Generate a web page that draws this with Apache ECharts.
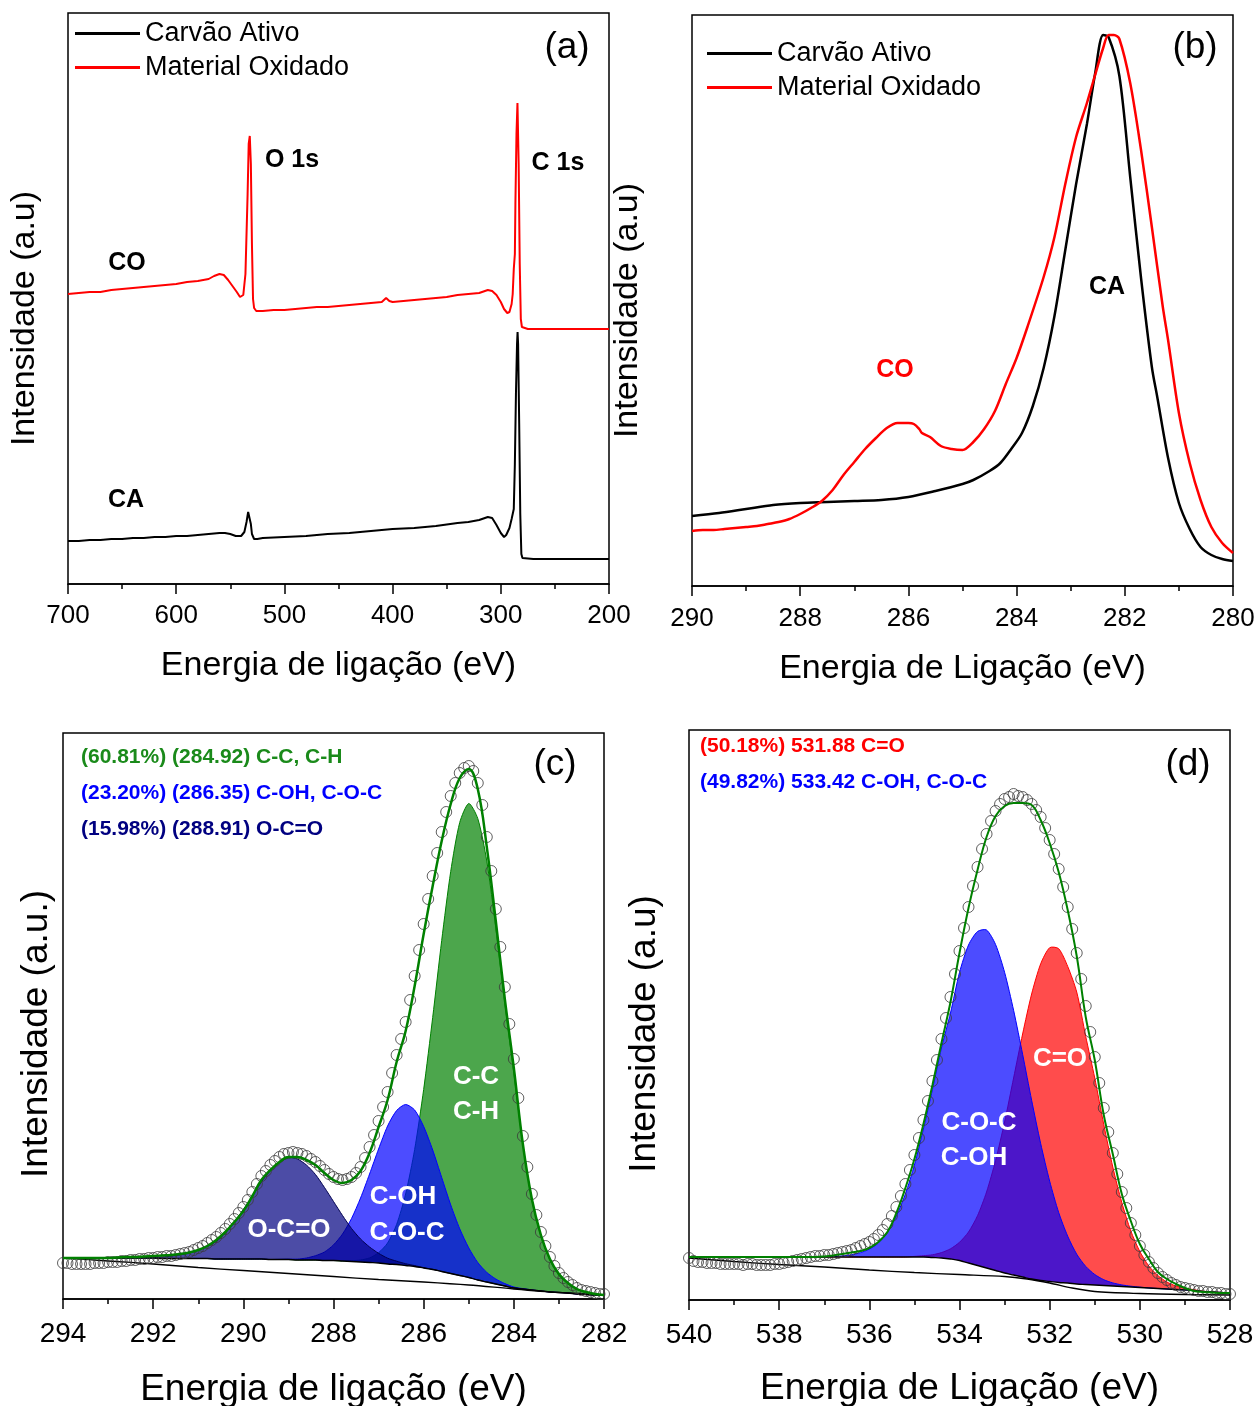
<!DOCTYPE html>
<html><head><meta charset="utf-8">
<script src="https://cdn.jsdelivr.net/npm/echarts@6/dist/echarts.min.js"></script>
<style>html,body{margin:0;padding:0;background:#fff}#c{width:1259px;height:1406px}</style>
</head><body><div id="c"></div>
<script>
const F = "'Liberation Sans', Arial, Helvetica, sans-serif";

// ---------- (a) survey spectra ----------
const surveyCAEnergy = [700,690,680,670,660,650,640,630,620,610, 600,590,580,570,560,555,550,545,540,537, 535,533.5,532.5,531,530,528,525,520,500,480, 460,440,420,400,380,360,340,330,320,312, 308,304,300,297,295,292,290,288,287,286, 285,284.5,284,283,282,281,280,270,250,230, 200];
const surveyCA = [43,43,44,44,45,45,46,46,47,47, 48,48,49,50,51,51,50,48,48,52, 62,72,72,60,50,45,45,46,47,48, 50,51,53,55,56,58,61,62,64,67, 66,59,51,47,49,56,65,75,120,190, 240,252,240,160,70,30,26,25,25,25, 25];
const surveyCOEnergy = [700,690,680,670,660,650,640,630,620,610, 600,590,580,570,565,560,556,552,548,544, 541,538,536,534,533,532,531,530,529,528, 526,520,510,500,490,480,470,460,450,440, 430,420,410,406,403,400,390,380,370,360, 350,340,330,320,312,308,304,300,297,294, 292,290,289,288,287,286.5,285.5,284.6,283.5,282.5, 281.5,280.5,275,260,240,220,200];
const surveyCO = [290,291,292,292,294,295,296,297,298,299, 300,302,303,305,308,310,309,304,298,292, 287,289,310,390,440,448,420,340,285,276, 273,273,274,274,275,276,277,277,278,279, 280,281,282,286,283,282,283,284,285,286, 287,289,290,291,294,293,289,282,275,271, 272,280,290,315,330,380,450,481,420,320, 265,257,255,255,255,255,255];

// ---------- (b) C 1s high resolution ----------
const c1sCAEnergy = [290,289.5,289,288.5,288,287.5,287,286.5,286,285.5, 285,284.8,284.5,284.3,284.1,283.9,283.7,283.5,283.3,283.1, 282.9,282.7,282.55,282.4,282.3,282.1,281.9,281.7,281.5,281.4, 281.2,281.0,280.8,280.6,280.4,280.2,280];
const c1sCA = [70,73,77,81,83,84,85,86,89,95, 102,106,115,123,137,153,180,218,270,336, 402,462,512,551,549,510,409,308,219,189, 128,83,57,39,31,27,25];
const c1sCOEnergy = [290,289.8,289.6,289.4,289.2,289,288.8,288.6,288.4,288.2, 288,287.8,287.6,287.4,287.2,287,286.8,286.6,286.4,286.2, 286.0,285.9,285.8,285.75,285.6,285.4,285.2,285.0,284.8,284.6, 284.4,284.2,284.0,283.8,283.5,283.3,283.1,282.9,282.7,282.56, 282.4,282.3,282.2,282.1,281.9,281.7,281.5,281.3,281.2,281.0, 280.8,280.6,280.4,280.2,280];
const c1sCO = [55,56,56,57,58,59,60,62,64,67, 72,78,85,96,111,124,137,148,158,163, 163,162,157,153,149,140,137,136,144,157, 175,202,228,259,309,349,402,449,483,509, 538,551,551,547,503,436,359,280,246,173, 123,86,59,43,33];

// ---------- (c) C 1s deconvolution ----------
const cFitEnergy = [294.0,293.8,293.6,293.4,293.2,293.0,292.8,292.6,292.4,292.2, 292.0,291.8,291.6,291.4,291.2,291.0,290.8,290.6,290.4,290.2, 290.0,289.8,289.6,289.4,289.2,289.0,288.8,288.6,288.4,288.2, 288.0,287.8,287.6,287.4,287.2,287.0,286.8,286.6,286.4,286.2, 286.0,285.8,285.6,285.4,285.2,285.0,284.8,284.6,284.4,284.2, 284.0,283.8,283.6,283.4,283.2,283.0,282.8,282.6,282.4,282.2, 282.0];
const cShirley = [41,41,41,41,41,41,41,41,41,41, 41,40.5,40.5,40.5,40.5,40.5,40.5,40,40,40, 40,40,40,39.5,39.5,39.5,39,39,39,38.5, 38.5,38,37.5,37,36.5,36,35,34.5,33.5,32.5, 31,29.5,27.5,25.5,23.5,21.5,19,17,15,13, 11,10,9,8,7,6.5,6,5,4.5,4, 4];
const cOCO = [0,0,0,0,0,0,0,0,0,0.1, 0.3,1.5,2.5,3.8,5.5,8.5,12.5,17.5,26,37, 49.5,63,77,89,97,102,101,95,85.5,73, 59,45.5,33,23,15.5,9.7,5.8,3.3,1.8,0.9, 0.4,0.2,0,0,0,0,0,0,0,0, 0,0,0,0,0,0,0,0,0,0, 0];
const cCOH = [0,0,0,0,0,0,0,0,0,0, 0,0,0,0,0,0,0,0,0,0, 0,0,0,0,0.2,0.4,0.9,2,4.3,8.5, 15.6,27,43,64,88.5,114,138,154,161,156.5, 141.5,119.5,94,68.6,46.7,29.6,17.5,9.6,5,2.4, 1,0.4,0.1,0,0,0,0,0,0,0, 0];
const cCC = [0,0,0,0,0,0,0,0,0,0, 0,0,0,0,0,0,0,0,0,0, 0,0,0,0,0,0,0,0,0,0, 0,0,0.8,2,4.6,10.3,21,40,71.5,117, 178.5,252,331,402,453,474,461.5,421,356,283, 215,145,90,55,32,17,9,4.5,2,0.8, 0.3];
const cEnvelope = [41,41,41,41,41,41,41.5,42,42,42.5, 43,43.5,44,45,46.5,49,53,59,67,77, 88,103,119,129,137,142,142,139,134,126, 119,116,119,128,146,172,199,237,268,313, 365,413,458,495,521,530,510,452,378,300, 231,155,100,64,40,25,16,10,7,5, 4];
const cLinEnergy = [294,293,292,291,290,289,288,287,286,285,284,283,282];
const cLinear = [41,38,35,31.5,28.5,25.5,22.5,19.5,17,14,10,6.5,4];
const cPtEnergy = [294.0,293.9,293.8,293.7,293.6,293.5,293.4,293.3,293.2,293.1, 293.0,292.9,292.8,292.7,292.6,292.5,292.4,292.3,292.2,292.1, 292.0,291.9,291.8,291.7,291.6,291.5,291.4,291.3,291.2,291.1, 291.0,290.9,290.8,290.7,290.6,290.5,290.4,290.3,290.2,290.1, 290.0,289.9,289.8,289.7,289.6,289.5,289.4,289.3,289.2,289.1, 289.0,288.9,288.8,288.7,288.6,288.5,288.4,288.3,288.2,288.1, 288.0,287.9,287.8,287.7,287.6,287.5,287.4,287.3,287.2,287.1, 287.0,286.9,286.8,286.7,286.6,286.5,286.4,286.3,286.2,286.1, 286.0,285.9,285.8,285.7,285.6,285.5,285.4,285.3,285.2,285.1, 285.0,284.9,284.8,284.7,284.6,284.5,284.4,284.3,284.2,284.1, 284.0,283.9,283.8,283.7,283.6,283.5,283.4,283.3,283.2,283.1, 283.0,282.9,282.8,282.7,282.6,282.5,282.4,282.3,282.2,282.1, 282.0];
const cPoints = [36,36,35,35,35,35,35,36,36,36, 37,37,37,38,38,39,39,40,40,41, 41,42,42,43,43,44,45,46,47,49, 51,53,56,59,62,66,70,75,80,86, 92,99,107,115,123,128,134,138,142,145, 146,147,146,145,143,140,137,133,129,125, 122,120,119,120,122,126,132,141,152,164, 178,192,207,226,244,260,277,299,323,349, 375,400,423,446,467,487,503,516,526,531, 533,528,516,494,462,428,390,352,312,275, 240,201,163,132,105,84,67,53,42,33, 26,21,17,14,11,9,8,7,6,5, 5];

// ---------- (d) O 1s deconvolution ----------
const dFitEnergy = [540.0,539.8,539.6,539.4,539.2,539.0,538.8,538.6,538.4,538.2, 538.0,537.8,537.6,537.4,537.2,537.0,536.8,536.6,536.4,536.2, 536.0,535.8,535.6,535.4,535.2,535.0,534.8,534.6,534.4,534.2, 534.0,533.8,533.6,533.4,533.2,533.0,532.8,532.6,532.4,532.2, 532.0,531.8,531.6,531.4,531.2,531.0,530.8,530.6,530.4,530.2, 530.0,529.8,529.6,529.4,529.2,529.0,528.8,528.6,528.4,528.2, 528.0];
const dShirley = [43,43,43,43,43,43,43,43,43,43, 43,43,43,43,43,43,43,43,43,43, 43,43,43,43,43,43,43,42.5,42,41, 39.5,37,34.5,32,29.5,27,25,23,21,19.5, 18.5,17.5,17,16,15.5,15,14.5,14,13.5,13, 12.5,12,11.5,11,10.5,10,9.5,8.5,8,7.5, 7];
const dCOH = [0,0,0,0,0,0,0,0,0,0, 0,0,0,0.1,0.1,0.2,0.5,1.1,2.2,4.3, 7.9,13.9,25,41,63,92,128,168,210,246, 288,318,334,338,326,300.7,264.7,222.7,178.7,137, 100.3,70,46.8,29.8,18.1,10.5,5.8,3.1,1.6,0.8, 0.35,0.1,0,0,0,0,0,0,0,0, 0];
const dCO = [0,0,0,0,0,0,0,0,0,0, 0,0,0,0,0,0,0,0,0,0, 0,0,0,0,0,0.6,1.3,2.7,5.4,10.2, 18.2,31,49.8,76,110,151,197,243,285,316.6, 333.8,333.8,316.6,292,248,207,161,119,84,56, 36,22,13,7,3.5,1.8,0.8,0.3,0.1,0, 0];
const dEnvelope = [43,43,43,43,43,43,43,43,43,43, 43,43,43,43,43,43.5,44.5,46,47.5,49, 52,58,68,87,112,141,176,215,257,298, 347,392,430,463,484,494,497,497,495,480, 457,428,390,344,283,240,185,146,106,79, 56,41,28,21,16,12,9,8,7.5,7, 7];
const dLinEnergy = [540,539,538,537,536,535,534,533,532.5,532,531.5,531,530,529,528];
const dLinear = [42,38.5,35.5,33,30,27.5,25.5,23.5,21,17,12,8.5,6.5,5.5,5];
const dPtEnergy = [540.0,539.9,539.8,539.7,539.6,539.5,539.4,539.3,539.2,539.1, 539.0,538.9,538.8,538.7,538.6,538.5,538.4,538.3,538.2,538.1, 538.0,537.9,537.8,537.7,537.6,537.5,537.4,537.3,537.2,537.1, 537.0,536.9,536.8,536.7,536.6,536.5,536.4,536.3,536.2,536.1, 536.0,535.9,535.8,535.7,535.6,535.5,535.4,535.3,535.2,535.1, 535.0,534.9,534.8,534.7,534.6,534.5,534.4,534.3,534.2,534.1, 534.0,533.9,533.8,533.7,533.6,533.5,533.4,533.3,533.2,533.1, 533.0,532.9,532.8,532.7,532.6,532.5,532.4,532.3,532.2,532.1, 532.0,531.9,531.8,531.7,531.6,531.5,531.4,531.3,531.2,531.1, 531.0,530.9,530.8,530.7,530.6,530.5,530.4,530.3,530.2,530.1, 530.0,529.9,529.8,529.7,529.6,529.5,529.4,529.3,529.2,529.1, 529.0,528.9,528.8,528.7,528.6,528.5,528.4,528.3,528.2,528.1, 528.0];
const dPoints = [42,39,38,38,37,37,37,36,36,36, 36,36,35,36,36,35,35,35,35,36, 36,37,38,39,40,41,42,43,44,44, 45,45,46,47,48,49,50,52,54,56, 58,61,65,70,76,84,93,104,116,130, 145,162,180,199,219,240,261,282,303,326, 349,372,393,414,433,451,466,479,489,496, 501,503,506,504,503,500,496,490,483,472, 460,446,431,413,393,371,347,321,294,268, 243,217,192,168,147,126,108,92,77,65, 54,45,38,32,27,23,20,17,15,13, 12,11,10,9,9,8,8,7,7,6, 6];

// ---------- helpers ----------
const zip = (xs, ys) => xs.map((x, i) => [x, ys[i]]);
const grids = [
  {left:68, top:13, width:541, height:571},
  {left:692, top:15, width:541, height:571},
  {left:63, top:733, width:541, height:566},
  {left:689, top:730, width:541, height:570}
].map(g => Object.assign(g, {show:true, borderColor:'#000', borderWidth:1.5, backgroundColor:'rgba(0,0,0,0)', outerBoundsMode:'none', containLabel:false}));

function xAx(gi, min, max, name, fs, nfs, margin, gap) {
  return {gridIndex:gi, type:'value', min, max, interval:(max-min === 500 ? 100 : 2), inverse:true,
    name, nameLocation:'middle', nameGap:gap, nameMoveOverlap:false,
    nameTextStyle:{fontFamily:F, fontSize:nfs, color:'#000'},
    axisLine:{show:true, onZero:false, lineStyle:{color:'#000', width:1.5}},
    axisTick:{show:true, inside:false, length:10, lineStyle:{color:'#000', width:1.5}},
    minorTick:{show:true, splitNumber:2, length:5, lineStyle:{color:'#000', width:1.5}},
    axisLabel:{fontFamily:F, fontSize:fs, color:'#000', margin, showMinLabel:true, showMaxLabel:true, hideOverlap:false},
    splitLine:{show:false}, minorSplitLine:{show:false}};
}
function yAx(gi, max, name, nfs, gap, shift) {
  return {gridIndex:gi, type:'value', min:0, max, name, nameLocation:'middle', nameRotate:90, nameGap:gap, nameMoveOverlap:false,
    nameTextStyle:{fontFamily:F, fontSize:nfs, color:'#000', padding:[0, 2*shift, 0, 0]},
    axisLine:{show:false}, axisTick:{show:false}, axisLabel:{show:false}, splitLine:{show:false}};
}
function line(gi, name, xs, ys, color, width, z, smooth) {
  return {type:'line', name, xAxisIndex:gi, yAxisIndex:gi, data:zip(xs, ys), symbol:'none', smooth:smooth||false,
    color, lineStyle:{color, width}, z:z||3, silent:true};
}
// fitted component: filled between the background (base) and base + component height
function fill(gi, name, xs, base, h, color, edge) {
  return {type:'custom', name, xAxisIndex:gi, yAxisIndex:gi, coordinateSystem:'cartesian2d', silent:true, z:2, clip:true,
    data: xs.map((x, i) => [x, base[i], base[i] + h[i]]),
    encode:{x:0, y:[1, 2]},
    renderItem: (params, api) => {
      if (params.dataIndex !== 0) return null;
      const top = xs.map((x, i) => api.coord([x, base[i] + h[i]]));
      const bot = xs.map((x, i) => api.coord([x, base[i]])).reverse();
      return {type:'group', children:[
        {type:'polygon', shape:{points: top.concat(bot), smooth:0.25}, style:{fill:color, stroke:null}},
        {type:'polyline', shape:{points: top, smooth:0.25}, style:{fill:null, stroke:edge, lineWidth:1}}
      ]};
    }
  };
}
function pts(gi, xs, ys) {
  return {type:'scatter', name:'pontos'+gi, xAxisIndex:gi, yAxisIndex:gi, data:zip(xs, ys), symbol:'circle', symbolSize:11,
    itemStyle:{color:'rgba(255,255,255,0)', borderColor:'#3a3a3a', borderWidth:1}, z:4, silent:true};
}
function T(text, x, y, size, weight, color, align) {
  return {type:'text', x, y, z:100, silent:true,
    style:{text, fill:color||'#000', fontSize:size, fontWeight:weight||'normal', fontFamily:F, align:align||'center', verticalAlign:'middle'}};
}

const series = [
  line(0, 'Carvão Ativo', surveyCAEnergy, surveyCA, '#000', 2),
  line(0, 'Material Oxidado', surveyCOEnergy, surveyCO, '#ff0000', 2),
  line(1, 'Carvão Ativo', c1sCAEnergy, c1sCA, '#000', 2.5, 3, 0.3),
  line(1, 'Material Oxidado', c1sCOEnergy, c1sCO, '#ff0000', 2.5, 3, 0.3),
  fill(2, 'C-C, C-H', cFitEnergy, cShirley, cCC, 'rgba(0,128,0,0.7)', '#008000'),
  fill(2, 'C-OH, C-O-C', cFitEnergy, cShirley, cCOH, 'rgba(0,0,255,0.7)', '#0000ff'),
  fill(2, 'O-C=O', cFitEnergy, cShirley, cOCO, 'rgba(0,0,128,0.7)', '#000050'),
  line(2, 'linha base', cLinEnergy, cLinear, '#000', 1.3, 3, 0.3),
  line(2, 'Shirley', cFitEnergy, cShirley, '#000', 1.3, 3, 0.4),
  pts(2, cPtEnergy, cPoints),
  line(2, 'envelope', cFitEnergy, cEnvelope, '#008000', 2.5, 5, 0.4),
  fill(3, 'C=O', dFitEnergy, dShirley, dCO, 'rgba(255,0,0,0.7)', '#ff0000'),
  fill(3, 'C-OH, C-O-C (O)', dFitEnergy, dShirley, dCOH, 'rgba(0,0,255,0.7)', '#0000ff'),
  line(3, 'linha base O', dLinEnergy, dLinear, '#000', 1.3, 3, 0.3),
  line(3, 'Shirley O', dFitEnergy, dShirley, '#000', 1.3, 3, 0.4),
  pts(3, dPtEnergy, dPoints),
  line(3, 'envelope O', dFitEnergy, dEnvelope, '#008000', 2, 5, 0.4)
];

const legendBase = {data:['Carvão Ativo','Material Oxidado'], orient:'vertical', icon:'rect', itemWidth:65, itemHeight:3,
  itemGap:7, padding:0, selectedMode:false, textStyle:{fontFamily:F, fontSize:27, color:'#000'}};

const option = {
  animation:false,
  backgroundColor:'#fff',
  grid: grids,
  xAxis: [
    xAx(0, 200, 700, 'Energia de ligação (eV)', 26, 34, 19, 65),
    xAx(1, 280, 290, 'Energia de Ligação (eV)', 26, 34, 20, 66),
    xAx(2, 282, 294, 'Energia de ligação (eV)', 28, 37, 21, 72),
    xAx(3, 528, 540, 'Energia de Ligação (eV)', 28, 37, 21, 70)
  ],
  yAxis: [
    yAx(0, 571, 'Intensidade (a.u)', 34, 26, 20),
    yAx(1, 571, 'Intensidade (a.u)', 34, 47, 10),
    yAx(2, 566, 'Intensidade (a.u.)', 37, 8, 18),
    yAx(3, 570, 'Intensidade (a.u)', 37, 26, 19)
  ],
  legend: [
    Object.assign({}, legendBase, {left:75, top:20}),
    Object.assign({}, legendBase, {left:707, top:40})
  ],
  series,
  graphic: [
    T('(a)', 567, 48, 37), T('O 1s', 292, 160, 25, 'bold'), T('C 1s', 558, 163, 25, 'bold'),
    T('CO', 127, 263, 25, 'bold'), T('CA', 126, 500, 25, 'bold'),
    T('(b)', 1195, 48, 37), T('CA', 1107, 287, 25, 'bold'), T('CO', 895, 370, 25, 'bold', '#ff0000'),
    T('(c)', 555, 765, 37),
    T('(60.81%) (284.92) C-C, C-H', 81, 757, 21, 'bold', '#1a8a1a', 'left'),
    T('(23.20%) (286.35) C-OH, C-O-C', 81, 793, 21, 'bold', '#0000ff', 'left'),
    T('(15.98%) (288.91) O-C=O', 81, 829, 21, 'bold', '#000080', 'left'),
    T('C-C', 476, 1077, 26, 'bold', '#fff'), T('C-H', 476, 1112, 26, 'bold', '#fff'),
    T('C-OH', 403, 1197, 26, 'bold', '#fff'), T('C-O-C', 407, 1233, 26, 'bold', '#fff'),
    T('O-C=O', 289, 1230, 26, 'bold', '#fff'),
    T('(d)', 1188, 765, 37),
    T('(50.18%) 531.88 C=O', 700, 746, 21, 'bold', '#ff0000', 'left'),
    T('(49.82%) 533.42 C-OH, C-O-C', 700, 782, 21, 'bold', '#0000ff', 'left'),
    T('C=O', 1060, 1059, 26, 'bold', '#fff'),
    T('C-O-C', 979, 1123, 26, 'bold', '#fff'), T('C-OH', 974, 1158, 26, 'bold', '#fff')
  ]
};
const chart = echarts.init(document.getElementById('c'), null, {renderer:'canvas', width:1259, height:1406});
chart.setOption(option);
</script></body></html>
